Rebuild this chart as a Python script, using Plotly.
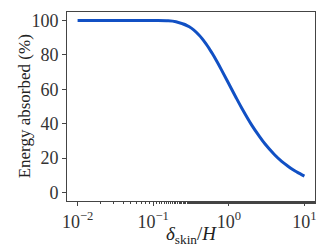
import plotly.graph_objects as go

# delta_skin / H (log scale) and absorbed energy in percent
ratio = [0.01, 0.02, 0.05, 0.1, 0.15, 0.2, 0.3, 0.4, 0.5, 0.6, 0.7, 0.8,
         1.0, 1.25, 1.5, 2.0, 2.5, 3.0, 4.0, 5.0, 6.0, 7.0, 8.0, 10.0]
absorbed = [100, 100, 100, 100, 99.9, 99.3, 96.4, 91.8, 86.5, 81.1, 76.0, 71.3,
            63.2, 55.1, 48.7, 39.3, 33.0, 28.3, 22.1, 18.1, 15.4, 13.3, 11.8, 9.5]

x_ticks = [0.01, 0.1, 1, 10]
x_ticktext = ["10<sup>−2</sup>", "10<sup>−1</sup>", "10<sup>0</sup>", "10<sup>1</sup>"]
y_ticks = [0, 20, 40, 60, 80, 100]

font_family = "Liberation Serif"

fig = go.Figure()
fig.add_trace(
    go.Scatter(
        x=ratio,
        y=absorbed,
        mode="lines",
        line=dict(color="#1150c4", width=3, shape="spline"),
        showlegend=False,
    )
)

axis_common = dict(
    showline=True,
    mirror=True,
    linecolor="#444444",
    linewidth=1,
    ticks="outside",
    ticklen=4,
    tickcolor="#444444",
    showgrid=False,
    zeroline=False,
    automargin=False,
    tickfont=dict(family=font_family, size=18, color="#333333"),
)

fig.update_xaxes(
    type="log",
    range=[-2.14, 1.14],
    tickvals=x_ticks,
    ticktext=x_ticktext,
    ticklabelstandoff=0,
    minor=dict(ticks="outside", ticklen=2, tickcolor="#444444", showgrid=False),
    **axis_common,
)
fig.update_yaxes(range=[-5, 105], tickvals=y_ticks, **axis_common)

# axis titles placed as annotations so they sit where the reference has them
fig.add_annotation(
    text="<i>δ</i><sub>skin</sub>/<i>H</i>",
    xref="paper",
    yref="paper",
    x=0.5,
    y=-0.105,
    xanchor="center",
    yanchor="top",
    showarrow=False,
    font=dict(family=font_family, size=19, color="#222222"),
)
fig.add_annotation(
    text="Energy absorbed (%)",
    xref="paper",
    yref="paper",
    x=-0.17,
    y=0.5,
    xanchor="center",
    yanchor="middle",
    textangle=-90,
    showarrow=False,
    font=dict(family=font_family, size=17, color="#222222"),
)

# page body adds an 8px margin, so the figure is 8px smaller and shifted
fig.update_layout(
    width=324,
    height=244,
    margin=dict(l=59, r=17, t=4, b=51),
    paper_bgcolor="white",
    plot_bgcolor="white",
)

fig.write_html("out.html")
